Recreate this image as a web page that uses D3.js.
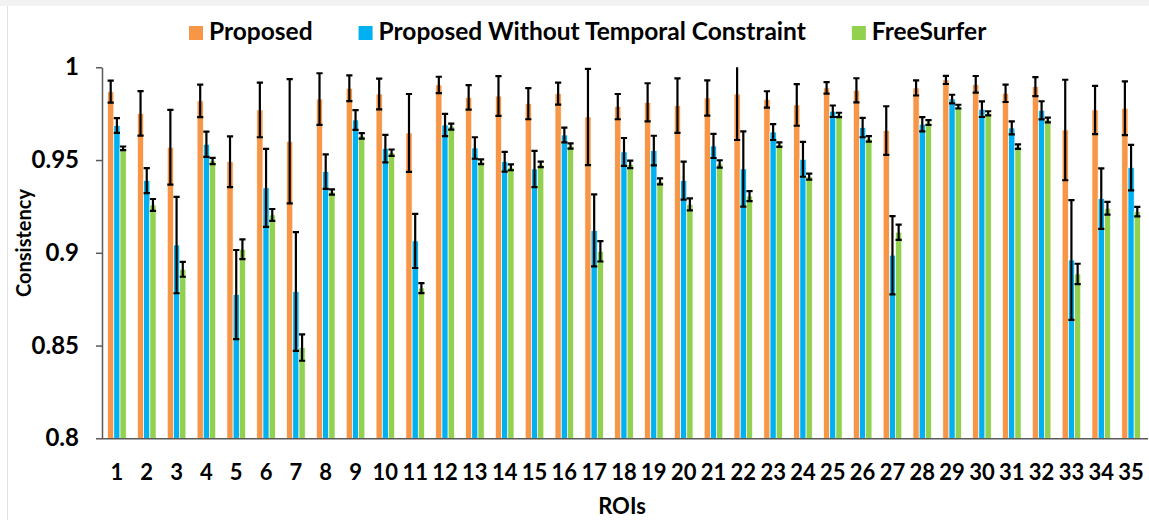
<!DOCTYPE html>
<html>
<head>
<meta charset="utf-8">
<script src="https://cdn.jsdelivr.net/npm/d3@7"></script>
<style>
  body { margin: 0; background: #fff; }
  text { font-family: Lato, "Open Sans", sans-serif; font-weight: bold; fill: #000; }
</style>
</head>
<body>
<div id="content"></div>
<script>
const rois = ["1","2","3","4","5","6","7","8","9","10","11","12","13","14","15","16","17","18",
  "19","20","21","22","23","24","25","26","27","28","29","30","31","32","33","34","35"];
const seriesNames = ["Proposed", "Proposed Without Temporal Constraint", "FreeSurfer"];
const seriesColors = ["#F79646", "#00B0F0", "#92D050"];
const yTicks = [0.8, 0.85, 0.9, 0.95, 1];
const yTickLabels = ["0.8", "0.85", "0.9", "0.95", "1"];

const proposed = [0.9869, 0.9752, 0.9569, 0.9819, 0.9491, 0.9770, 0.9601, 0.9829, 0.9887, 0.9856,
  0.9646, 0.9905, 0.9838, 0.9845, 0.9804, 0.9858, 0.9732, 0.9788, 0.9811, 0.9793,
  0.9835, 0.9856, 0.9827, 0.9797, 0.9889, 0.9876, 0.9659, 0.9889, 0.9932, 0.9908,
  0.9860, 0.9896, 0.9662, 0.9770, 0.9779];
const proposedErr = [0.0059, 0.012, 0.0202, 0.0088, 0.0137, 0.0147, 0.0335, 0.0139, 0.0069, 0.0083,
  0.021, 0.0044, 0.0066, 0.0107, 0.0084, 0.0059, 0.0259, 0.0068, 0.0103, 0.0147,
  0.0095, 0.0248, 0.0044, 0.0112, 0.0031, 0.0065, 0.0131, 0.0041, 0.0022, 0.0045,
  0.0047, 0.0051, 0.0271, 0.013, 0.0145];

const noTemporal = [0.9686, 0.9389, 0.9042, 0.9585, 0.8775, 0.9350, 0.8791, 0.9438, 0.9716, 0.9562,
  0.9064, 0.9689, 0.9565, 0.9491, 0.9452, 0.9635, 0.9121, 0.9544, 0.9551, 0.9389,
  0.9576, 0.9452, 0.9651, 0.9504, 0.9763, 0.9675, 0.8987, 0.9693, 0.9829, 0.9774,
  0.9673, 0.9768, 0.8961, 0.9292, 0.9459];
const noTemporalErr = [0.004, 0.0067, 0.026, 0.0068, 0.024, 0.021, 0.032, 0.0093, 0.0053, 0.0074,
  0.0146, 0.006, 0.0058, 0.0053, 0.0098, 0.004, 0.0194, 0.0075, 0.008, 0.0102,
  0.0065, 0.0203, 0.0043, 0.0094, 0.0031, 0.0052, 0.0211, 0.0038, 0.0023, 0.0042,
  0.0035, 0.0049, 0.0323, 0.0163, 0.0123];

const freeSurfer = [0.9563, 0.9258, 0.8911, 0.9495, 0.9019, 0.9204, 0.8489, 0.9328, 0.9630, 0.9540,
  0.8810, 0.9680, 0.9491, 0.9461, 0.9477, 0.9576, 0.9008, 0.9477, 0.9385, 0.9261,
  0.9479, 0.9306, 0.9583, 0.9411, 0.9743, 0.9614, 0.9111, 0.9702, 0.9788, 0.9752,
  0.9572, 0.9716, 0.8886, 0.9240, 0.9222];
const freeSurferErr = [0.001, 0.0032, 0.004, 0.0017, 0.0053, 0.0032, 0.0071, 0.0014, 0.0015, 0.0017,
  0.0027, 0.0016, 0.0013, 0.0016, 0.0015, 0.0014, 0.0055, 0.002, 0.0016, 0.0032,
  0.002, 0.0027, 0.0012, 0.0016, 0.0012, 0.0015, 0.0041, 0.0013, 0.001, 0.0011,
  0.0012, 0.0013, 0.0055, 0.0034, 0.0026];

const values = [proposed, noTemporal, freeSurfer];
const errors = [proposedErr, noTemporalErr, freeSurferErr];

const w = 1149;
const h = 520;
const plotLeft = 102, plotRight = 1146, plotTop = 67.3, plotBottom = 438.3;

// flat table for drawing
const rows = [];
rois.forEach((r, i) => {
  seriesNames.forEach((s, j) => {
    rows.push({ roi: r, series: s, value: values[j][i], err: errors[j][i], color: seriesColors[j] });
  });
});

const x0 = d3.scaleBand().domain(rois).range([plotLeft, plotRight]).paddingInner(0.376).paddingOuter(0.188);
const x1 = d3.scaleBand().domain(seriesNames).range([0, x0.bandwidth()]);
const y = d3.scaleLinear().domain([0.8, 1]).range([plotBottom, plotTop]);

const svg = d3.select("#content")
  .append("svg")
  .attr("width", w)
  .attr("height", h);

// faint chart frame
svg.append("rect").attr("x", 0).attr("y", 0).attr("width", w).attr("height", 6).attr("fill", "#f2f2f2");
svg.append("line").attr("x1", 7.5).attr("x2", 7.5).attr("y1", 6).attr("y2", h).attr("stroke", "#e3e3e3");

svg.append("defs").append("clipPath").attr("id", "plotclip")
  .append("rect").attr("x", plotLeft - 5).attr("y", plotTop).attr("width", plotRight - plotLeft + 10).attr("height", plotBottom - plotTop);

svg.selectAll("rect.bar")
  .data(rows)
  .enter()
  .append("rect")
  .attr("class", "bar")
  .attr("x", d => x0(d.roi) + x1(d.series))
  .attr("y", d => y(d.value))
  .attr("width", x1.bandwidth())
  .attr("height", d => plotBottom - y(d.value))
  .attr("fill", d => d.color)
  .attr("stroke", "#fff")
  .attr("stroke-width", 0.7);

const errG = svg.append("g").attr("clip-path", "url(#plotclip)");
const cap = x1.bandwidth() / 2;
const eb = errG.selectAll("g.err")
  .data(rows)
  .enter()
  .append("g")
  .attr("class", "err")
  .attr("transform", d => `translate(${x0(d.roi) + x1(d.series) + x1.bandwidth() / 2},0)`)
  .attr("stroke", "#000")
  .attr("stroke-width", 2.2);
eb.append("line")
  .attr("y1", d => y(d.value + d.err))
  .attr("y2", d => y(d.value - d.err));
eb.append("line")
  .attr("x1", -cap).attr("x2", cap)
  .attr("y1", d => y(d.value + d.err)).attr("y2", d => y(d.value + d.err));
eb.append("line")
  .attr("x1", -cap).attr("x2", cap)
  .attr("y1", d => y(d.value - d.err)).attr("y2", d => y(d.value - d.err));

const yAxis = d3.axisLeft(y)
  .tickValues(yTicks)
  .tickFormat((d, i) => yTickLabels[i])
  .tickSize(6)
  .tickSizeOuter(0)
  .tickPadding(17);
const gy = svg.append("g")
  .attr("transform", `translate(${plotLeft},0)`)
  .call(yAxis);
gy.selectAll("path, line").attr("stroke", "#595959").attr("stroke-width", 1.5);
gy.selectAll("text").style("font-size", "24px");

const xAxis = d3.axisBottom(x0).tickSize(0).tickSizeOuter(0).tickPadding(26);
const gx = svg.append("g")
  .attr("transform", `translate(0,${plotBottom})`)
  .call(xAxis);
gx.select("path").attr("stroke", "#595959").attr("stroke-width", 1.5)
  .attr("d", `M${plotLeft},0.5H${plotRight + 2}`);
gx.selectAll("text").style("font-size", "22px");

svg.append("text")
  .attr("transform", "translate(31,243) rotate(-90)")
  .attr("text-anchor", "middle")
  .style("font-size", "20px")
  .text("Consistency");

svg.append("text")
  .attr("x", 622)
  .attr("y", 514)
  .attr("text-anchor", "middle")
  .style("font-size", "22px")
  .text("ROIs");

// legend
let lx = 189;
seriesNames.forEach((s, j) => {
  svg.append("rect")
    .attr("x", lx).attr("y", 26)
    .attr("width", 14).attr("height", 14)
    .attr("fill", seriesColors[j]);
  const t = svg.append("text")
    .attr("x", lx + 20)
    .attr("y", 40)
    .style("font-size", "24.5px")
    .text(s);
  lx += 20 + t.node().getComputedTextLength() + 46;
});
</script>
</body>
</html>
